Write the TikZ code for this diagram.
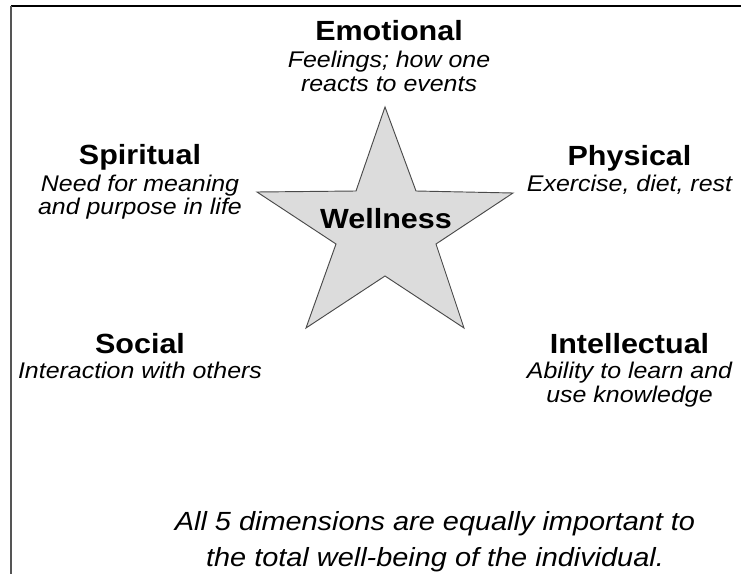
\documentclass[tikz,border=0pt]{standalone}
\usepackage{fontspec}
\setmainfont{Liberation Sans}[FakeStretch=1.1]
\usepackage{tikz}
\usetikzlibrary{positioning}
\definecolor{starfill}{HTML}{DCDCDC}
\definecolor{staredge}{HTML}{4A4A4A}
\definecolor{framegray}{HTML}{555555}
\tikzset{
  dimhead/.style={
    font=\bfseries\fontsize{20.8}{22}\selectfont,
    inner sep=0pt, anchor=base, text depth=0pt
  },
  dimtext/.style={
    font=\itshape\fontsize{17}{17.6}\selectfont,
    inner sep=0pt, align=center
  },
  centerlabel/.style={
    font=\bfseries\fontsize{20.8}{22}\selectfont,
    inner sep=0pt, anchor=base
  },
  notetext/.style={
    font=\itshape\fontsize{19.7}{26.3}\selectfont,
    inner sep=0pt, align=center, anchor=base
  },
}

\begin{document}
\begin{tikzpicture}[x=0.75pt, y=-0.75pt]
\useasboundingbox (0,0) rectangle (741,574);

% Frame
\draw[black, line width=1.1pt] (11,6) -- (741,6);
\draw[framegray, line width=0.8pt] (11,6) -- (11,574);

% Star
\draw[staredge, fill=starfill, line width=0.7pt, line join=miter]
  (385,107) -- (416,191) -- (513,193) -- (436,244) -- (464,328)
  -- (385,276) -- (306,328) -- (336,244) -- (257,192) -- (356,191) -- cycle;
\node[centerlabel] (well) at (386,228) {Wellness};

% Dimensions
\node[dimhead] (emo) at (389,41) {Emotional};
\node[dimtext, below=7.4pt of emo] (emotxt) {Feelings; how one\\reacts to events};

\node[dimhead] (spi) at (140,164) {Spiritual};
\node[dimtext, below=7.8pt of spi] (spitxt) {Need for meaning\\and purpose in life};

\node[dimhead] (phy) at (629.5,165) {Physical};
\node[dimtext, below=7.2pt of phy] (phytxt) {Exercise, diet, rest};

\node[dimhead] (soc) at (140,353) {Social};
\node[dimtext, below=6.6pt of soc] (soctxt) {Interaction with others};

\node[dimhead] (int) at (629.5,353) {Intellectual};
\node[dimtext, below=6.6pt of int] (inttxt) {Ability to learn and\\use knowledge};

% Note
\node[notetext] (note) at (435,566)
  {All 5 dimensions are equally important to\\the total well-being of the individual.};

\end{tikzpicture}
\end{document}
